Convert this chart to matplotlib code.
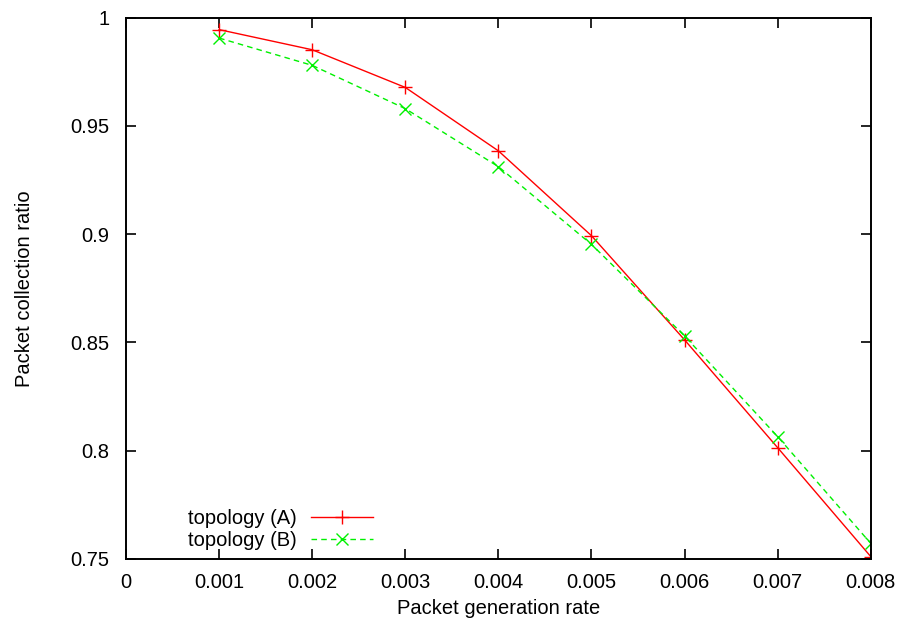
import matplotlib.pyplot as plt
import numpy as np

plt.rcParams['font.family'] = ['Liberation Sans', 'DejaVu Sans']

# 数据
rate = [0.001, 0.002, 0.003, 0.004, 0.005, 0.006, 0.007, 0.008]
topo_a = [0.9945, 0.9852, 0.9678, 0.9385, 0.8993, 0.8512, 0.8014, 0.7511]
topo_b = [0.9906, 0.9780, 0.9580, 0.9312, 0.8953, 0.8530, 0.8065, 0.7572]

x_ticks = [0, 0.001, 0.002, 0.003, 0.004, 0.005, 0.006, 0.007, 0.008]
x_labels = ['0', '0.001', '0.002', '0.003', '0.004', '0.005', '0.006', '0.007', '0.008']
y_ticks = [0.75, 0.8, 0.85, 0.9, 0.95, 1.0]
y_labels = ['0.75', '0.8', '0.85', '0.9', '0.95', '1']

fs = 14.5

fig = plt.figure(figsize=(9.07, 6.33), dpi=100)
ax = fig.add_axes([0.139, 0.117, 0.821, 0.855])

ax.plot(rate, topo_a, color='#ff0000', lw=1.0, marker='+', ms=10, mew=1.0,
        label='topology (A)')
ax.plot(rate, topo_b, color='#00f000', lw=1.0, ls=(0, (4, 3)), marker='x', ms=9,
        mew=1.0, label='topology (B)')

ax.set_xlim(0, 0.008)
ax.set_ylim(0.75, 1.0)
ax.set_xticks(x_ticks)
ax.set_xticklabels(x_labels)
ax.set_yticks(y_ticks)
ax.set_yticklabels(y_labels)
ax.tick_params(direction='in', length=7, width=1.2, top=True, right=True,
               labelsize=fs)
ax.tick_params(axis='x', pad=10)
ax.tick_params(axis='y', pad=12)
for s in ax.spines.values():
    s.set_linewidth(1.4)

ax.set_xlabel('Packet generation rate', fontsize=fs, labelpad=5)
ax.set_ylabel('Packet collection ratio', fontsize=fs, labelpad=26)

ax.legend(loc='lower left', bbox_to_anchor=(0.083, 0.017), frameon=False,
          markerfirst=False, fontsize=fs, handlelength=3.1,
          labelspacing=0.12, handletextpad=0.7, borderpad=0, borderaxespad=0)

plt.savefig('out.png', dpi=100)
